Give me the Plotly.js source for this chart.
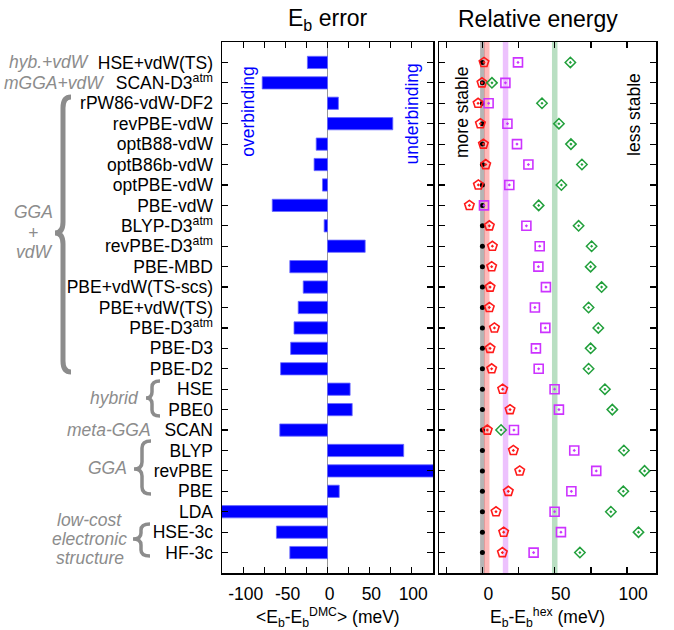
<!DOCTYPE html>
<html><head><meta charset="utf-8">
<script src="https://cdn.plot.ly/plotly-3.0.1.min.js"></script>
<style>html,body{margin:0;padding:0;background:#fff}</style>
</head><body>
<div id="chart" style="width:674px;height:630px"></div>
<script>
// ---------------- data ----------------
const methods = ['HSE+vdW(TS)', 'SCAN-D3<sup>atm</sup>', 'rPW86-vdW-DF2', 'revPBE-vdW', 'optB88-vdW',
  'optB86b-vdW', 'optPBE-vdW', 'PBE-vdW', 'BLYP-D3<sup>atm</sup>', 'revPBE-D3<sup>atm</sup>', 'PBE-MBD',
  'PBE+vdW(TS-scs)', 'PBE+vdW(TS)', 'PBE-D3<sup>atm</sup>', 'PBE-D3', 'PBE-D2', 'HSE', 'PBE0', 'SCAN',
  'BLYP', 'revPBE', 'PBE', 'LDA', 'HSE-3c', 'HF-3c'];
// <Eb - Eb^DMC> (meV)
const ebError = [-24, -78, 13, 78, -13.5, -16, -6, -66, -4, 45, -45, -29, -35, -40, -44, -56,
  27, 29.5, -57, 91, 130, 14, -150, -61, -45];
// Eb - Eb^hex (meV)
const hexRef = [0, 0, 0, 0, 0, 0, 0, 0, 0, 0, 0, 0, 0, 0, 0, 0, 0, 0, 0, 0, 0, 0, 0, 0, 0];
const pentagonE = [1.1, -0.3, -3.0, -1.4, 0.7, 2.3, -2.8, -9.0, 4.8, 6.9, 6.4, 5.3, 4.8, 8.3, 5.3, 6.4,
  14.0, 19.1, 3.4, 21.4, 25.8, 17.9, 9.4, 14.7, 13.8];
const squareE = [24.6, 15.9, 4.3, 17.3, 23.9, 31.8, 18.6, 1.1, 30.4, 39.6, 38.7, 43.9, 36.3, 43.5, 37.0, 38.9,
  49.9, 52.9, 21.8, 63.5, 78.7, 61.5, 49.9, 54.3, 35.4];
const diamondE = [60.8, 6.6, 41.2, 52.9, 61.2, 68.8, 54.6, 38.9, 66.5, 75.5, 74.8, 82.4, 73.4, 80.1, 74.8, 73.4,
  84.7, 89.8, 12.9, 97.8, 112.1, 97.4, 88.8, 107.9, 67.4];
// reference (DMC) bands: centre and half width (meV)
const bandCenters = [0, 3, 16, 50];
const bandHalfWidths = [1.6, 1.9, 1.9, 1.9];
// tick labels
const leftTickVals = [-100, -50, 0, 50, 100];
const leftTickText = ['-100', '-50', '0', '50', '100'];
const rightTickVals = [0, 50, 100];
const rightTickText = ['0', '50', '100'];

// ---------------- layout helpers ----------------
const FONT = 'Liberation Sans, Arial, Helvetica, sans-serif';
const ML = 222, MR = 18, MT = 42, MB = 57, W = 674, H = 630;
const PW = W - ML - MR, PH = H - MT - MB;
const px2x = p => (p - ML) / PW;
const px2y = p => (H - MB - p) / PH;
const rows = methods.map((m, i) => i);

const bandColors = ['rgba(120,120,120,0.55)', 'rgba(255,100,100,0.45)', 'rgba(215,120,250,0.45)', 'rgba(100,185,120,0.45)'];
const GRAY = '#8c8c8c';

function bracePath(tip, stem, cusp, top, mid, bot, r) {
  const P = (x, y) => px2x(x).toFixed(5) + ',' + px2y(y).toFixed(5);
  return 'M' + P(tip, top) + ' Q' + P(stem, top) + ' ' + P(stem, top + r) +
    ' L' + P(stem, mid - r) + ' Q' + P(stem, mid) + ' ' + P(cusp, mid) +
    ' Q' + P(stem, mid) + ' ' + P(stem, mid + r) +
    ' L' + P(stem, bot - r) + ' Q' + P(stem, bot) + ' ' + P(tip, bot);
}

const traces = [
  {type: 'bar', orientation: 'h', x: ebError, y: rows, width: 0.6, xaxis: 'x', yaxis: 'y',
   marker: {color: '#0000ff', line: {color: '#6a6aff', width: 0.8}}, hoverinfo: 'skip'},
  {type: 'scatter', mode: 'markers', x: hexRef, y: rows, xaxis: 'x2', yaxis: 'y2',
   marker: {symbol: 'circle', size: 5, color: 'black'}},
  {type: 'scatter', mode: 'markers', x: pentagonE, y: rows, xaxis: 'x2', yaxis: 'y2',
   marker: {symbol: 'pentagon-open-dot', size: 10, color: '#ff1a1a', line: {width: 1.6}}},
  {type: 'scatter', mode: 'markers', x: squareE, y: rows, xaxis: 'x2', yaxis: 'y2',
   marker: {symbol: 'square-open-dot', size: 9, color: '#cc33ff', line: {width: 1.6}}},
  {type: 'scatter', mode: 'markers', x: diamondE, y: rows, xaxis: 'x2', yaxis: 'y2',
   marker: {symbol: 'diamond-open-dot', size: 8, color: '#22a03c', line: {width: 1.5}}}
];

const shapes = bandCenters.map((c, i) => ({
  type: 'rect', xref: 'x2', yref: 'paper', x0: c - bandHalfWidths[i], x1: c + bandHalfWidths[i],
  y0: 0, y1: 1, fillcolor: bandColors[i], line: {width: 0}, layer: 'below'
}));
shapes.push({type: 'path', xref: 'paper', yref: 'paper', path: bracePath(71, 63, 55, 97, 233, 372, 11),
  line: {color: GRAY, width: 5}});
shapes.push({type: 'path', xref: 'paper', yref: 'paper', path: bracePath(160, 152, 146, 381, 398, 416, 6),
  line: {color: GRAY, width: 3.5}});
shapes.push({type: 'path', xref: 'paper', yref: 'paper', path: bracePath(151, 142, 134, 441, 469, 494, 7),
  line: {color: GRAY, width: 3.5}});
shapes.push({type: 'path', xref: 'paper', yref: 'paper', path: bracePath(150, 141, 133, 524, 539, 556, 6),
  line: {color: GRAY, width: 3.5}});

const ann = (o) => Object.assign({showarrow: false, font: {family: FONT, size: 17.5, color: 'black'}}, o);
const grp = (text, x, row, anchor) => ann({text: '<i>' + text + '</i>', xref: 'paper', x: px2x(x), xanchor: anchor,
  yref: 'y', y: row, yanchor: 'middle', font: {family: FONT, size: 17.5, color: GRAY}});

const annotations = [
  ann({text: 'E<sub>b</sub> error', xref: 'x domain', x: 0.5, yref: 'paper', y: 1, yanchor: 'middle', yshift: 23,
       font: {family: FONT, size: 23, color: 'black'}}),
  ann({text: 'Relative energy', xref: 'x2 domain', x: 0.456, yref: 'paper', y: 1, yanchor: 'middle', yshift: 23,
       font: {family: FONT, size: 23, color: 'black'}}),
  ann({text: '&lt;E<sub>b</sub>-E<sub>b</sub><sup>DMC</sup>&gt; (meV)', xref: 'x domain', x: 0.5, yref: 'paper', y: 0,
       yanchor: 'middle', yshift: -44}),
  ann({text: 'E<sub>b</sub>-E<sub>b</sub><sup>hex</sup> (meV)', xref: 'x2 domain', x: 0.5, yref: 'paper', y: 0,
       yanchor: 'middle', yshift: -44}),
  ann({text: 'overbinding', xref: 'x', x: -95, yref: 'y', y: 2.42, textangle: -90, font: {family: FONT, size: 17.5, color: '#0000ff'}}),
  ann({text: 'underbinding', xref: 'x', x: 102, yref: 'y', y: 2.5, textangle: -90, font: {family: FONT, size: 17.5, color: '#0000ff'}}),
  ann({text: 'more stable', xref: 'x2', x: -13.6, yref: 'y2', y: 2.44, textangle: -90}),
  ann({text: 'less stable', xref: 'x2', x: 105.2, yref: 'y2', y: 2.54, textangle: -90}),
  grp('hyb.+vdW', 91, 0, 'right'),
  grp('mGGA+vdW', 106, 1, 'right'),
  grp('GGA', 33, 7.3, 'center'),
  grp('+', 33, 8.33, 'center'),
  grp('vdW', 34, 9.26, 'center'),
  grp('hybrid', 141, 16.45, 'right'),
  grp('meta-GGA', 153, 18, 'right'),
  grp('GGA', 129, 19.86, 'right'),
  grp('low-cost', 89, 22.41, 'center'),
  grp('electronic', 89, 23.35, 'center'),
  grp('structure', 90, 24.28, 'center')
];

const axBase = {showline: true, linecolor: 'black', linewidth: 1.5, mirror: 'ticks', ticks: 'inside',
  ticklen: 6, tickwidth: 1.2, tickcolor: 'black', showgrid: false, fixedrange: true,
  tickfont: {family: FONT, size: 17.5, color: 'black'}};

const layout = {
  width: W, height: H, margin: {l: ML, r: MR, t: MT, b: MB}, showlegend: false,
  paper_bgcolor: 'white', plot_bgcolor: 'white', font: {family: FONT},
  xaxis: Object.assign({}, axBase, {domain: [0, 211 / PW], range: [-126, 126], anchor: 'y',
    tickmode: 'array', tickvals: leftTickVals, ticktext: leftTickText, ticklabelstandoff: 4, ticklabelshift: 2,
    minor: {dtick: 25, tick0: 0, ticks: 'inside', ticklen: 6, tickwidth: 1.2, tickcolor: 'black', showgrid: false},
    zeroline: true, zerolinecolor: '#999', zerolinewidth: 1}),
  yaxis: Object.assign({}, axBase, {domain: [0, 1], range: [25, -1], anchor: 'x', tickmode: 'array',
    tickvals: rows, ticktext: methods, zeroline: false, ticklabelstandoff: 4}),
  xaxis2: Object.assign({}, axBase, {domain: [217 / PW, 1], range: [-30, 120], anchor: 'y2',
    tickmode: 'array', tickvals: rightTickVals, ticktext: rightTickText, ticklabelshift: 6, ticklabelstandoff: 4,
    minor: {dtick: 25, tick0: 0, ticks: 'inside', ticklen: 6, tickwidth: 1.2, tickcolor: 'black', showgrid: false},
    zeroline: false}),
  yaxis2: Object.assign({}, axBase, {domain: [0, 1], range: [25, -1], anchor: 'x2', matches: 'y',
    tickmode: 'array', tickvals: rows, showticklabels: false, zeroline: false}),
  shapes: shapes,
  annotations: annotations
};

Plotly.newPlot('chart', traces, layout, {staticPlot: true, displayModeBar: false});
</script>
</body></html>
